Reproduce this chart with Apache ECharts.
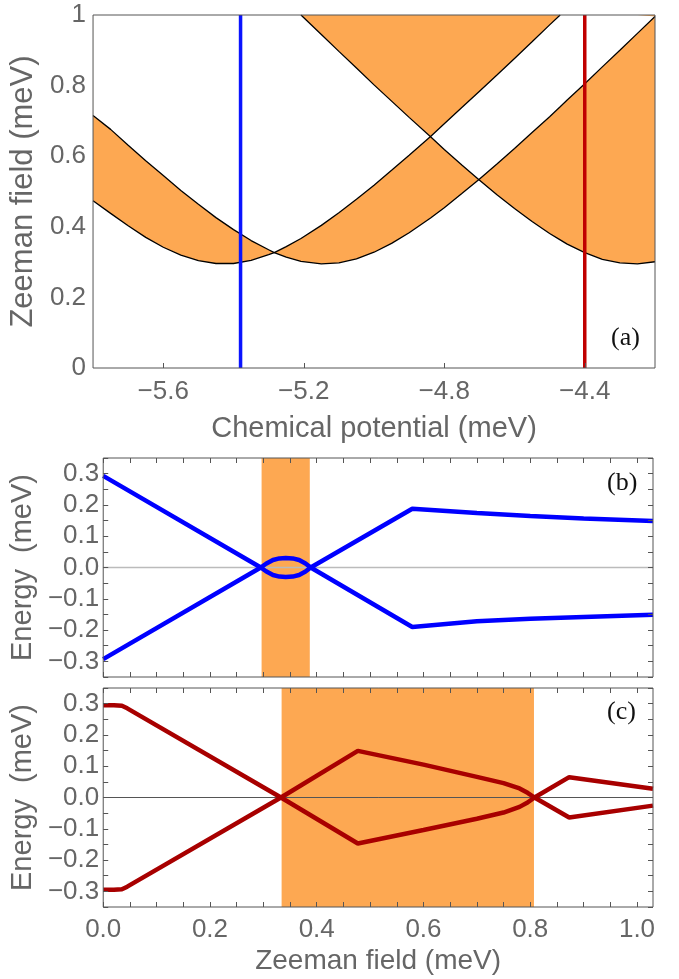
<!DOCTYPE html>
<html>
<head>
<meta charset="utf-8">
<script src="https://cdn.jsdelivr.net/npm/echarts@6/dist/echarts.min.js"></script>
<style>
  html, body { margin: 0; padding: 0; background: #fff; }
  #main { width: 679px; height: 979px; }
</style>
</head>
<body>
<div id="main"></div>
<script>
// ---- panel (a): phase boundaries vs chemical potential ----
var mu = [-5.80, -5.75, -5.70, -5.65, -5.60, -5.55, -5.50, -5.45, -5.40, -5.35,
          -5.30, -5.284, -5.25, -5.208, -5.15, -5.10, -5.05, -5.00, -4.95, -4.90,
          -4.839, -4.80, -4.75, -4.702, -4.65, -4.60, -4.55, -4.50, -4.47, -4.45,
          -4.40, -4.35, -4.30, -4.25, -4.20];
var curveA = [0.474, 0.438, 0.403, 0.370, 0.342, 0.320, 0.304, 0.296, 0.296, 0.305,
              0.321, 0.327, 0.344, 0.367, 0.404, 0.440, 0.478, 0.518, 0.560, 0.603,
              0.656, 0.692, 0.738, 0.782, 0.830, 0.877, 0.924, 0.972, 1.0, null,
              null, null, null, null, null];
var curveB = [0.715, 0.676, 0.631, 0.587, 0.545, 0.503, 0.464, 0.426, 0.392, 0.361,
              0.335, 0.327, 0.314, 0.302, 0.295, 0.298, 0.309, 0.328, 0.353, 0.383,
              0.425, 0.454, 0.494, 0.533, 0.578, 0.622, 0.667, 0.712, 0.740, 0.759,
              0.805, 0.853, 0.900, 0.948, 0.996];
var curveC = [null, null, null, null, null, null, null, null, null, null,
              null, null, null, 1.0, 0.945, 0.897, 0.850, 0.802, 0.756, 0.710,
              0.655, 0.619, 0.575, 0.534, 0.491, 0.452, 0.415, 0.381, 0.363, 0.351,
              0.327, 0.308, 0.298, 0.295, 0.301];
var muTicks = [-5.6, -5.2, -4.8, -4.4];
var cutBlue = -5.38;
var cutRed = -4.40;

// ---- panel (b): spectrum along the blue cut ----
var zeemanB = [0, 0.2952, 0.305, 0.318, 0.330, 0.342, 0.355, 0.367, 0.379, 0.3887, 0.579, 0.70, 0.80, 0.90, 1.03];
var energyBUp = [0.293, 0, 0.012, 0.024, 0.029, 0.030, 0.029, 0.024, 0.013, 0, 0.188, 0.174, 0.165, 0.157, 0.149];
var energyBDown = [-0.293, 0, -0.012, -0.024, -0.029, -0.030, -0.029, -0.024, -0.013, 0, -0.190, -0.172, -0.164, -0.158, -0.151];
var topoB = [0.2967, 0.387];

// ---- panel (c): spectrum along the red cut ----
var zeemanC = [0, 0.02, 0.035, 0.045, 0.333, 0.477, 0.60, 0.70, 0.75, 0.78, 0.795, 0.808, 0.873, 1.03];
var energyCUp = [0.295, 0.295, 0.293, 0.285, 0, 0.149, 0.105, 0.066, 0.046, 0.029, 0.015, 0, 0.065, 0.028];
var energyCDown = [-0.295, -0.295, -0.293, -0.285, 0, -0.147, -0.104, -0.068, -0.048, -0.030, -0.016, 0, -0.064, -0.026];
var topoC = [0.3342, 0.807];

var zeemanTicks = [0, 0.2, 0.4, 0.6, 0.8, 1.0];
var zeemanMinor = [];
for (var t = 0; t <= 20; t++) zeemanMinor.push(+(t * 0.05).toFixed(2));
var energyTicks = [-0.3, -0.2, -0.1, 0, 0.1, 0.2, 0.3];
var energyMinor = [];
for (var e = -7; e <= 7; e++) energyMinor.push(+(e * 0.05).toFixed(2));

var ORANGE = '#fda852';
var GREY = '#666';
var SANS = '"Liberation Sans", Arial, sans-serif';

function minus(s) { return String(s).replace('-', '\u2212'); }
function pairs(xs, ys) { return xs.map(function (x, i) { return [x, ys[i]]; }); }

// k-th lowest boundary at each mu (missing = above the frame)
function level(k) {
  var out = [];
  mu.forEach(function (x, i) {
    var v = [curveA[i], curveB[i], curveC[i]].map(function (y) {
      return y == null ? Infinity : y;
    }).sort(function (a, b) { return a - b; })[k];
    if (isFinite(v)) out.push([x, v]);
  });
  return out;
}

var chart = echarts.init(document.getElementById('main'));

function frameAxisX(grid, pos, ticks) {
  return {
    type: 'value', gridIndex: grid, position: pos, min: 0, max: 1.03, z: 5,
    axisLine: { show: false, onZero: false },
    axisTick: { show: true, inside: true, length: 5, customValues: ticks, lineStyle: { color: '#555' } },
    axisLabel: { show: false }, splitLine: { show: false }
  };
}
function frameAxisY(grid, pos) {
  return {
    type: 'value', gridIndex: grid, position: pos, min: -0.35, max: 0.35, z: 5,
    axisLine: { show: false, onZero: false },
    axisTick: { show: true, inside: true, length: 5, customValues: energyMinor, lineStyle: { color: '#555' } },
    axisLabel: { show: false }, splitLine: { show: false }
  };
}
function energyAxis(grid) {
  var ax = frameAxisY(grid, 'left');
  ax.axisLabel = {
    show: true, customValues: energyTicks, margin: 4, fontSize: 26, color: GREY, fontFamily: SANS,
    formatter: function (v) { return minus(v.toFixed(1)); }
  };
  ax.name = 'Energy  (meV)';
  ax.nameLocation = 'middle';
  ax.nameGap = 47;
  ax.nameTextStyle = { fontSize: 29, color: GREY, fontFamily: SANS };
  return ax;
}

var frameGrid = { show: true, z: 10, borderColor: '#555', borderWidth: 1, backgroundColor: 'transparent' };

chart.setOption({
  animation: false,
  backgroundColor: '#fff',
  title: [
    { text: '(a)', left: 611, top: 325, padding: 0, textStyle: { fontFamily: '"Liberation Serif", serif', fontSize: 26, fontWeight: 'normal', color: '#111' } },
    { text: '(b)', left: 607, top: 470, padding: 0, textStyle: { fontFamily: '"Liberation Serif", serif', fontSize: 26, fontWeight: 'normal', color: '#111' } },
    { text: '(c)', left: 607, top: 699, padding: 0, textStyle: { fontFamily: '"Liberation Serif", serif', fontSize: 26, fontWeight: 'normal', color: '#111' } }
  ],
  grid: [
    Object.assign({ left: 92, right: 24, top: 15, height: 353 }, frameGrid),
    Object.assign({ left: 103, right: 26, top: 458, height: 219 }, frameGrid),
    Object.assign({ left: 103, right: 26, top: 688, height: 219 }, frameGrid)
  ],
  xAxis: [
    {
      type: 'value', gridIndex: 0, min: -5.8, max: -4.2, z: 5,
      axisLine: { show: false, onZero: false },
      axisTick: { show: true, inside: true, length: 5, customValues: muTicks, lineStyle: { color: '#555' } },
      axisLabel: { customValues: muTicks, margin: 11, fontSize: 26, color: GREY, fontFamily: SANS,
                   formatter: function (v) { return minus(v.toFixed(1)); } },
      splitLine: { show: false },
      name: 'Chemical potential (meV)', nameLocation: 'middle', nameGap: 46,
      nameTextStyle: { fontSize: 29, color: GREY, fontFamily: SANS }
    },
    frameAxisX(1, 'bottom', zeemanMinor),
    frameAxisX(1, 'top', zeemanMinor),
    (function () {
      var ax = frameAxisX(2, 'bottom', zeemanMinor);
      ax.axisLabel = { show: true, customValues: zeemanTicks, margin: 10, fontSize: 26, color: GREY, fontFamily: SANS,
                       formatter: function (v) { return v.toFixed(1); } };
      ax.name = 'Zeeman field (meV)';
      ax.nameLocation = 'middle';
      ax.nameGap = 40;
      ax.nameTextStyle = { fontSize: 28, color: GREY, fontFamily: SANS };
      return ax;
    })(),
    frameAxisX(2, 'top', zeemanMinor)
  ],
  yAxis: [
    {
      type: 'value', gridIndex: 0, min: 0, max: 1, interval: 0.2, z: 5,
      axisLine: { show: false, onZero: false }, axisTick: { show: false }, splitLine: { show: false },
      axisLabel: { margin: 7, fontSize: 26, color: GREY, fontFamily: SANS },
      name: 'Zeeman field (meV)', nameLocation: 'middle', nameGap: 40,
      nameTextStyle: { fontSize: 31, color: GREY, fontFamily: SANS }
    },
    energyAxis(1),
    frameAxisY(1, 'right'),
    energyAxis(2),
    frameAxisY(2, 'right')
  ],
  series: [
    // panel (a) shading: odd number of boundaries below
    { type: 'line', xAxisIndex: 0, yAxisIndex: 0, data: level(0), symbol: 'none', silent: true,
      lineStyle: { width: 0 }, areaStyle: { origin: 'end', color: ORANGE, opacity: 1 }, z: 1 },
    { type: 'line', xAxisIndex: 0, yAxisIndex: 0, data: level(1), symbol: 'none', silent: true,
      lineStyle: { width: 0 }, areaStyle: { origin: 'end', color: '#fff', opacity: 1 }, z: 1 },
    { type: 'line', xAxisIndex: 0, yAxisIndex: 0, data: level(2), symbol: 'none', silent: true,
      lineStyle: { width: 0 }, areaStyle: { origin: 'end', color: ORANGE, opacity: 1 }, z: 1 },
    // panel (a) boundary lines
    { type: 'line', xAxisIndex: 0, yAxisIndex: 0, data: pairs(mu, curveA), symbol: 'none', connectNulls: false,
      lineStyle: { color: '#000', width: 1.3 }, z: 3 },
    { type: 'line', xAxisIndex: 0, yAxisIndex: 0, data: pairs(mu, curveB), symbol: 'none', connectNulls: false,
      lineStyle: { color: '#000', width: 1.3 }, z: 3 },
    { type: 'line', xAxisIndex: 0, yAxisIndex: 0, data: pairs(mu, curveC), symbol: 'none', connectNulls: false,
      lineStyle: { color: '#000', width: 1.3 }, z: 3 },
    // cuts
    { type: 'line', xAxisIndex: 0, yAxisIndex: 0, data: [[cutBlue, 0], [cutBlue, 1]], symbol: 'none',
      lineStyle: { color: '#0a14ff', width: 3.5 }, z: 4 },
    { type: 'line', xAxisIndex: 0, yAxisIndex: 0, data: [[cutRed, 0], [cutRed, 1]], symbol: 'none',
      lineStyle: { color: '#c00000', width: 3.5 }, z: 4 },

    // panel (b)
    { type: 'line', xAxisIndex: 1, yAxisIndex: 1, data: [[0, 0], [1.03, 0]], symbol: 'none', silent: true,
      lineStyle: { color: '#bbb', width: 1.5 }, z: 2,
      markArea: { silent: true, itemStyle: { color: ORANGE, opacity: 1 },
                  data: [[{ xAxis: topoB[0] }, { xAxis: topoB[1] }]] } },
    { type: 'line', xAxisIndex: 1, yAxisIndex: 1, data: pairs(zeemanB, energyBUp), symbol: 'none',
      lineStyle: { color: '#0000ff', width: 4.5 }, z: 3 },
    { type: 'line', xAxisIndex: 1, yAxisIndex: 1, data: pairs(zeemanB, energyBDown), symbol: 'none',
      lineStyle: { color: '#0000ff', width: 4.5 }, z: 3 },

    // panel (c)
    { type: 'line', xAxisIndex: 3, yAxisIndex: 3, data: [[0, 0], [1.03, 0]], symbol: 'none', silent: true,
      lineStyle: { color: '#555', width: 1 }, z: 2,
      markArea: { silent: true, itemStyle: { color: ORANGE, opacity: 1 },
                  data: [[{ xAxis: topoC[0] }, { xAxis: topoC[1] }]] } },
    { type: 'line', xAxisIndex: 3, yAxisIndex: 3, data: pairs(zeemanC, energyCUp), symbol: 'none',
      lineStyle: { color: '#a80000', width: 4.5 }, z: 3 },
    { type: 'line', xAxisIndex: 3, yAxisIndex: 3, data: pairs(zeemanC, energyCDown), symbol: 'none',
      lineStyle: { color: '#a80000', width: 4.5 }, z: 3 }
  ]
});
</script>
</body>
</html>
